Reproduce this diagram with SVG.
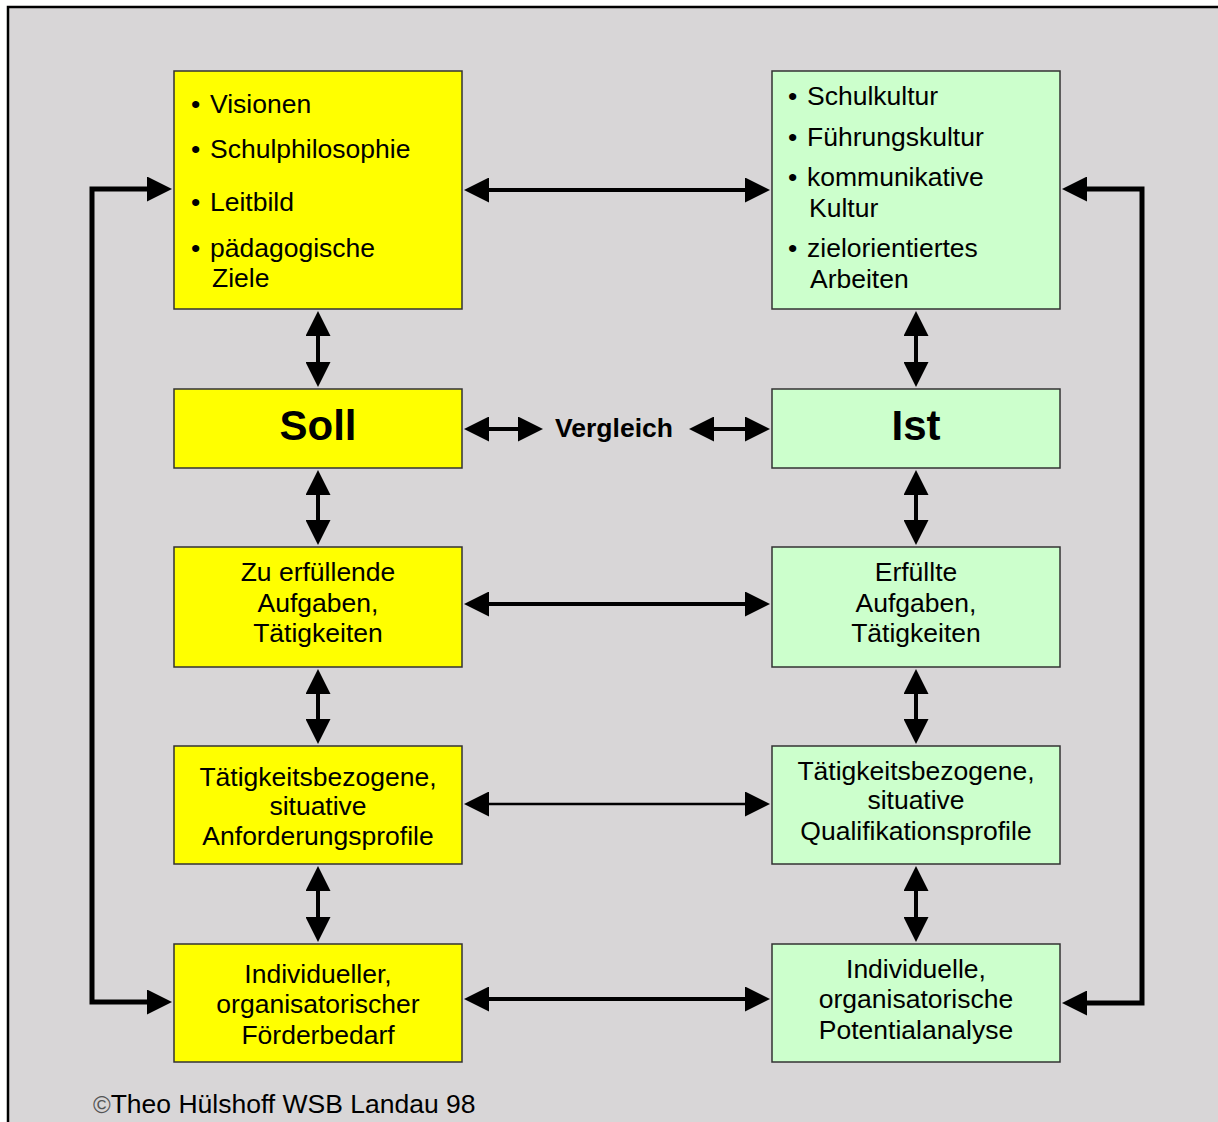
<svg xmlns="http://www.w3.org/2000/svg" width="1218" height="1122" viewBox="0 0 1218 1122">
  <style>
    text { font-family: "Liberation Sans", Arial, sans-serif; font-size: 26.5px; fill: #000; }
    .c { text-anchor: middle; }
    .big { font-size: 42px; font-weight: bold; }
    .bold { font-weight: bold; }
    .soll rect { fill: #ffff00; stroke: #333; stroke-width: 1.5; }
    .ist rect { fill: #ccffcc; stroke: #333; stroke-width: 1.5; }
    .link { fill: none; stroke: #000; stroke-width: 4; marker-start: url(#ah); marker-end: url(#ah); }
    .thin { stroke-width: 2.5; }
    .loop { stroke-width: 5; }
  </style>
  <defs>
    <marker id="ah" viewBox="0 0 25 25" markerWidth="25" markerHeight="25" refX="1" refY="12.5" orient="auto-start-reverse" markerUnits="userSpaceOnUse">
      <path d="M0,0 L25,12.5 L0,25 Z" fill="#000"/>
    </marker>
  </defs>

  <!-- page and frame -->
  <rect x="0" y="0" width="1218" height="1122" fill="#ffffff"/>
  <rect x="8" y="7" width="1240" height="1140" fill="#d8d6d7" stroke="#000" stroke-width="2.5"/>

  <!-- target side (Soll) -->
  <g id="soll-werte" class="soll">
    <rect x="174" y="71" width="288" height="238"/>
    <text x="191" y="113">•</text><text x="210" y="113">Visionen</text>
    <text x="191" y="158">•</text><text x="210" y="158">Schulphilosophie</text>
    <text x="191" y="211">•</text><text x="210" y="211">Leitbild</text>
    <text x="191" y="257">•</text><text x="210" y="257">pädagogische</text>
    <text x="212" y="287">Ziele</text>
  </g>
  <g id="soll" class="soll">
    <rect x="174" y="389" width="288" height="79"/>
    <text class="c big" x="318" y="440">Soll</text>
  </g>
  <g id="soll-aufgaben" class="soll">
    <rect x="174" y="547" width="288" height="120"/>
    <text class="c" x="318" y="581">Zu erfüllende</text>
    <text class="c" x="318" y="612">Aufgaben,</text>
    <text class="c" x="318" y="642">Tätigkeiten</text>
  </g>
  <g id="soll-profile" class="soll">
    <rect x="174" y="746" width="288" height="118"/>
    <text class="c" x="318" y="786">Tätigkeitsbezogene,</text>
    <text class="c" x="318" y="815">situative</text>
    <text class="c" x="318" y="845">Anforderungsprofile</text>
  </g>
  <g id="soll-foerderung" class="soll">
    <rect x="174" y="944" width="288" height="118"/>
    <text class="c" x="318" y="983">Individueller,</text>
    <text class="c" x="318" y="1013">organisatorischer</text>
    <text class="c" x="318" y="1044">Förderbedarf</text>
  </g>

  <!-- actual side (Ist) -->
  <g id="ist-kultur" class="ist">
    <rect x="772" y="71" width="288" height="238"/>
    <text x="788" y="105">•</text><text x="807" y="105">Schulkultur</text>
    <text x="788" y="146">•</text><text x="807" y="146">Führungskultur</text>
    <text x="788" y="186">•</text><text x="807" y="186">kommunikative</text>
    <text x="809" y="217">Kultur</text>
    <text x="788" y="257">•</text><text x="807" y="257">zielorientiertes</text>
    <text x="810" y="288">Arbeiten</text>
  </g>
  <g id="ist" class="ist">
    <rect x="772" y="389" width="288" height="79"/>
    <text class="c big" x="916" y="440">Ist</text>
  </g>
  <g id="ist-aufgaben" class="ist">
    <rect x="772" y="547" width="288" height="120"/>
    <text class="c" x="916" y="581">Erfüllte</text>
    <text class="c" x="916" y="612">Aufgaben,</text>
    <text class="c" x="916" y="642">Tätigkeiten</text>
  </g>
  <g id="ist-profile" class="ist">
    <rect x="772" y="746" width="288" height="118"/>
    <text class="c" x="916" y="780">Tätigkeitsbezogene,</text>
    <text class="c" x="916" y="809">situative</text>
    <text class="c" x="916" y="840">Qualifikationsprofile</text>
  </g>
  <g id="ist-potential" class="ist">
    <rect x="772" y="944" width="288" height="118"/>
    <text class="c" x="916" y="978">Individuelle,</text>
    <text class="c" x="916" y="1008">organisatorische</text>
    <text class="c" x="916" y="1039">Potentialanalyse</text>
  </g>

  <g id="vergleich">
    <text class="c bold" x="614" y="437">Vergleich</text>
  </g>

  <!-- connectors -->
  <g id="connectors">
    <!-- horizontal -->
    <path class="link" d="M488,190 H746"/>
    <path class="link" d="M488,429 H519"/>
    <path class="link" d="M713,429 H746"/>
    <path class="link" d="M488,604 H746"/>
    <path class="link thin" d="M488,804 H746"/>
    <path class="link" d="M488,999 H746"/>
    <!-- vertical, left column -->
    <path class="link" d="M318,335 V363"/>
    <path class="link" d="M318,494 V521"/>
    <path class="link" d="M318,693 V720"/>
    <path class="link" d="M318,890 V918"/>
    <!-- vertical, right column -->
    <path class="link" d="M916,335 V363"/>
    <path class="link" d="M916,494 V521"/>
    <path class="link" d="M916,693 V720"/>
    <path class="link" d="M916,890 V918"/>
    <!-- outer loops -->
    <path class="link loop" d="M148,189 H92 V1002 H148"/>
    <path class="link loop" d="M1086,189 H1142 V1003 H1086"/>
  </g>

  <text x="93" y="1113"><tspan font-size="24" fill="#555">©</tspan>Theo Hülshoff WSB Landau 98</text>
</svg>
